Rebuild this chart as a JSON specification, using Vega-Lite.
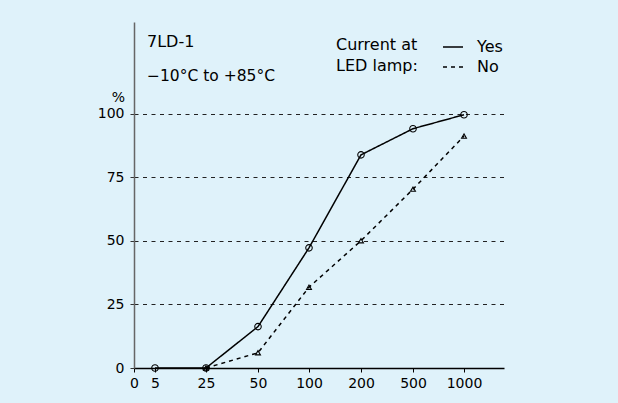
{
  "$schema": "https://vega.github.io/schema/vega-lite/v6.json",
  "width": 370,
  "height": 346,
  "autosize": {"type": "none"},
  "padding": {"left": 134, "top": 22, "right": 114, "bottom": 35},
  "background": "#dff2fa",
  "title": {
    "text": "7LD-1",
    "subtitle": "−10°C to +85°C",
    "anchor": "start",
    "frame": "group",
    "dx": 13,
    "dy": 66,
    "font": "DejaVu Sans",
    "fontSize": 16,
    "fontWeight": "normal",
    "color": "black",
    "subtitleFont": "DejaVu Sans",
    "subtitleFontSize": 15.5,
    "subtitleColor": "black",
    "subtitlePadding": 19
  },
  "data": {
    "values": [
      {"dose": 5, "pct": 0, "current": "Yes"},
      {"dose": 25, "pct": 0, "current": "Yes"},
      {"dose": 50, "pct": 16.3, "current": "Yes"},
      {"dose": 100, "pct": 47.3, "current": "Yes"},
      {"dose": 200, "pct": 83.9, "current": "Yes"},
      {"dose": 500, "pct": 94.2, "current": "Yes"},
      {"dose": 1000, "pct": 99.7, "current": "Yes"},
      {"dose": 25, "pct": 0, "current": "No"},
      {"dose": 50, "pct": 6, "current": "No"},
      {"dose": 100, "pct": 31.8, "current": "No"},
      {"dose": 200, "pct": 50.1, "current": "No"},
      {"dose": 500, "pct": 70.4, "current": "No"},
      {"dose": 1000, "pct": 91.3, "current": "No"}
    ]
  },
  "encoding": {
    "x": {
      "field": "dose",
      "type": "quantitative",
      "scale": {
        "domain": [0, 5, 25, 50, 100, 200, 500, 1000, 1400],
        "range": [0, 21, 72, 124, 175, 227, 279, 330, 370],
        "nice": false,
        "zero": false
      },
      "axis": {
        "values": [0, 5, 25, 50, 100, 200, 500, 1000],
        "format": "d",
        "title": null,
        "grid": false,
        "domainColor": "black",
        "domainWidth": 1.5,
        "tickColor": "black",
        "tickSize": 4,
        "tickWidth": 1,
        "labelFont": "DejaVu Sans",
        "labelFontSize": 14,
        "labelColor": "black",
        "labelPadding": 4,
        "labelFlush": false,
        "labelOverlap": false
      }
    },
    "y": {
      "field": "pct",
      "type": "quantitative",
      "scale": {"domain": [0, 136.2], "nice": false},
      "axis": {
        "values": [0, 25, 50, 75, 100],
        "grid": true,
        "gridDash": [4, 4.5],
        "gridColor": "#222",
        "gridWidth": 1,
        "domainColor": "#666",
        "domainWidth": 1.5,
        "tickColor": "#333",
        "tickSize": 4,
        "labelFont": "DejaVu Sans",
        "labelFontSize": 14,
        "labelColor": "black",
        "labelPadding": 6,
        "title": "%",
        "titleAngle": 0,
        "titleX": -16,
        "titleY": 79,
        "titleAlign": "center",
        "titleBaseline": "alphabetic",
        "titleFont": "DejaVu Sans",
        "titleFontSize": 14,
        "titleFontWeight": "normal",
        "titleColor": "black"
      }
    }
  },
  "layer": [
    {
      "mark": {"type": "line", "color": "black", "strokeWidth": 1.5},
      "encoding": {
        "strokeDash": {
          "field": "current",
          "type": "nominal",
          "scale": {"domain": ["Yes", "No"], "range": [[1, 0], [4, 4]]},
          "legend": {
            "orient": "none",
            "legendX": 202,
            "legendY": 14,
            "title": ["Current at", "LED lamp:"],
            "titleOrient": "left",
            "titleAlign": "left",
            "titleFont": "DejaVu Sans",
            "titleFontSize": 16,
            "titleFontWeight": "normal",
            "titleColor": "black",
            "titleLineHeight": 21,
            "titlePadding": 24,
            "labelFont": "DejaVu Sans",
            "labelFontSize": 16,
            "labelColor": "black",
            "labelOffset": 13,
            "symbolSize": 400,
            "symbolStrokeWidth": 1.5,
            "symbolStrokeColor": "black",
            "rowPadding": 1,
            "padding": 0
          }
        }
      }
    },
    {
      "transform": [{"filter": "datum.current === 'Yes'"}],
      "mark": {"type": "point", "shape": "circle", "size": 42, "filled": false, "color": "black", "strokeWidth": 1.1, "opacity": 1}
    },
    {
      "transform": [{"filter": "datum.current === 'No'"}],
      "mark": {"type": "point", "shape": "triangle-up", "size": 24, "filled": false, "color": "black", "strokeWidth": 1.1, "opacity": 1}
    }
  ],
  "config": {"view": {"stroke": null}}
}
